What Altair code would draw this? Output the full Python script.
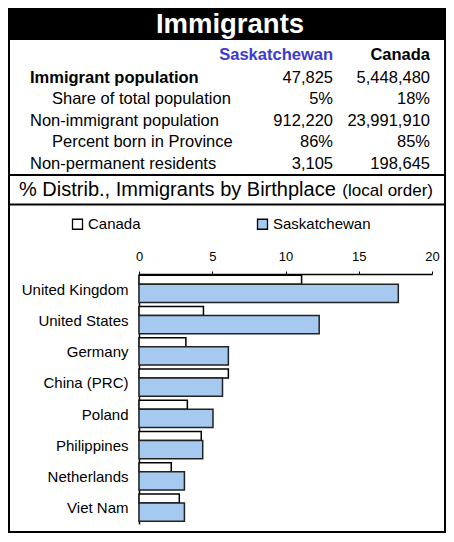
import altair as alt
import pandas as pd

FONT = "Liberation Sans"

# ---- data ----
title_text = "Immigrants"
col_headers = ["Saskatchewan", "Canada"]
row_labels = ["Immigrant population", "Share of total population",
              "Non-immigrant population", "Percent born in Province",
              "Non-permanent residents"]
row_bold = [True, False, False, False, False]
row_indent = [False, True, False, True, False]
sask_vals = ["47,825", "5%", "912,220", "86%", "3,105"]
canada_vals = ["5,448,480", "18%", "23,991,910", "85%", "198,645"]
subtitle_main = "% Distrib., Immigrants by Birthplace"
subtitle_note = "(local order)"

countries = ["United Kingdom", "United States", "Germany", "China (PRC)",
             "Poland", "Philippines", "Netherlands", "Viet Nam"]
canada_pct = [11.1, 4.4, 3.2, 6.1, 3.3, 4.25, 2.2, 2.75]
sask_pct = [17.7, 12.3, 6.1, 5.7, 5.05, 4.35, 3.1, 3.1]
series = ["Canada", "Saskatchewan"]

# ---- tables built from the lists ----
bars_df = pd.DataFrame({
    "country": countries * 2,
    "series": [series[0]] * len(countries) + [series[1]] * len(countries),
    "pct": canada_pct + sask_pct,
})
table_df = pd.DataFrame({
    "row": list(range(len(row_labels))),
    "label": row_labels,
    "bold": row_bold,
    "indent": row_indent,
    "sask": sask_vals,
    "canada": canada_vals,
})
one = pd.DataFrame({"k": [0]})

W, H = 293, 250
BLUE = "#3b3bd3"
BARFILL = "#a6caef"
FR_L, FR_R, FR_T, FR_B = -130, 306, -266, 258

y_enc = alt.Y("country:N", sort=countries,
              scale=alt.Scale(paddingInner=0, paddingOuter=0),
              axis=alt.Axis(title=None, ticks=False, labelPadding=11,
                            labelFontSize=15, labelFont=FONT, labelColor="black",
                            domainColor="black", domainWidth=1.5, grid=False))
x_enc = alt.X("pct:Q", scale=alt.Scale(domain=[0, 20], nice=False),
              axis=alt.Axis(orient="top", values=[0, 5, 10, 15, 20], grid=False,
                            title=None, tickSize=3, labelPadding=8,
                            labelFlush=False,
                            labelFontSize=13, labelFont=FONT, labelColor="black",
                            domainColor="black", tickColor="black", domainWidth=1.5))
fill_enc = alt.Fill("series:N",
                    scale=alt.Scale(domain=series, range=["white", BARFILL]),
                    legend=alt.Legend(orient="none", legendX=-69, legendY=-57.5,
                                      direction="horizontal", title=None,
                                      symbolType="square", symbolSize=100,
                                      symbolStrokeColor="black", symbolStrokeWidth=1.3,
                                      symbolOpacity=1,
                                      labelFontSize=15, labelFont=FONT,
                                      labelColor="black", labelOffset=3,
                                      columnPadding=113))

base_bars = alt.Chart(bars_df)
canada_bars = base_bars.transform_filter(alt.datum.series == series[0]).mark_bar(
    size=9, yOffset=-10, stroke="black", strokeWidth=1.5
).encode(x=x_enc, y=y_enc, fill=fill_enc)
sask_bars = base_bars.transform_filter(alt.datum.series == series[1]).mark_bar(
    size=18.2, yOffset=3.7, stroke="#222222", strokeWidth=1.5
).encode(x=x_enc, y=y_enc, fill=fill_enc)

# ---- decorations (frame, title bar, separators) ----
frame = alt.Chart(one).mark_rect(fill="white", fillOpacity=0, stroke="black",
                                 strokeWidth=2).encode(
    x=alt.value(FR_L), x2=alt.value(FR_R), y=alt.value(FR_T), y2=alt.value(FR_B))
title_bar = alt.Chart(one).mark_rect(fill="black").encode(
    x=alt.value(FR_L - 1), x2=alt.value(FR_R + 1), y=alt.value(FR_T - 1),
    y2=alt.value(-234))
title = alt.Chart(one).mark_text(text=title_text, font=FONT, fontSize=27.5,
                                 fontWeight="bold", color="white",
                                 align="center", baseline="middle").encode(
    x=alt.value(91), y=alt.value(-249))
sep1 = alt.Chart(one).mark_rule(color="black", strokeWidth=2).encode(
    x=alt.value(FR_L), x2=alt.value(FR_R), y=alt.value(-99))
sep2 = alt.Chart(one).mark_rule(color="black", strokeWidth=2).encode(
    x=alt.value(FR_L), x2=alt.value(FR_R), y=alt.value(-69.5))

# ---- table ----
head_sask = alt.Chart(one).mark_text(text=col_headers[0], font=FONT, fontSize=16.5,
                                     fontWeight="bold", color=BLUE, align="right",
                                     baseline="middle").encode(
    x=alt.value(194), y=alt.value(-219))
head_can = alt.Chart(one).mark_text(text=col_headers[1], font=FONT, fontSize=16.5,
                                    fontWeight="bold", color="black", align="right",
                                    baseline="middle").encode(
    x=alt.value(291), y=alt.value(-219))

tbase = alt.Chart(table_df).transform_calculate(
    py="-196.3 + datum.row * 21.55",
    lx="datum.indent ? -87 : -109",
)
labels_bold = tbase.transform_filter("datum.bold").mark_text(
    font=FONT, fontSize=16.5, fontWeight="bold", color="black",
    align="left", baseline="middle").encode(
    x=alt.X("lx:Q", scale=None, axis=None), y=alt.Y("py:Q", scale=None, axis=None),
    text="label:N")
labels_norm = tbase.transform_filter("!datum.bold").mark_text(
    font=FONT, fontSize=16.5, color="black", align="left", baseline="middle").encode(
    x=alt.X("lx:Q", scale=None, axis=None), y=alt.Y("py:Q", scale=None, axis=None),
    text="label:N")
vals_sask = tbase.mark_text(font=FONT, fontSize=16.5, color="black", align="right",
                            baseline="middle").encode(
    x=alt.value(194), y=alt.Y("py:Q", scale=None, axis=None), text="sask:N")
vals_can = tbase.mark_text(font=FONT, fontSize=16.5, color="black", align="right",
                           baseline="middle").encode(
    x=alt.value(291), y=alt.Y("py:Q", scale=None, axis=None), text="canada:N")

sub_main = alt.Chart(one).mark_text(text=subtitle_main, font=FONT, fontSize=20,
                                    color="black", align="left",
                                    baseline="middle").encode(
    x=alt.value(-120), y=alt.value(-84.3))
sub_note = alt.Chart(one).mark_text(text=subtitle_note, font=FONT, fontSize=17,
                                    color="black", align="right",
                                    baseline="middle").encode(
    x=alt.value(294), y=alt.value(-83.5))

chart = alt.layer(
    frame, title_bar, title, sep1, sep2, head_sask, head_can,
    labels_bold, labels_norm, vals_sask, vals_can, sub_main, sub_note,
    canada_bars, sask_bars,
).properties(
    width=W, height=H,
    padding={"left": 131, "top": 266, "right": 14, "bottom": 10},
    autosize=alt.AutoSizeParams(type="none"),
    background="white",
).configure_view(stroke=None)

chart.save("out.html", embed_options={"renderer": "svg", "actions": False})
